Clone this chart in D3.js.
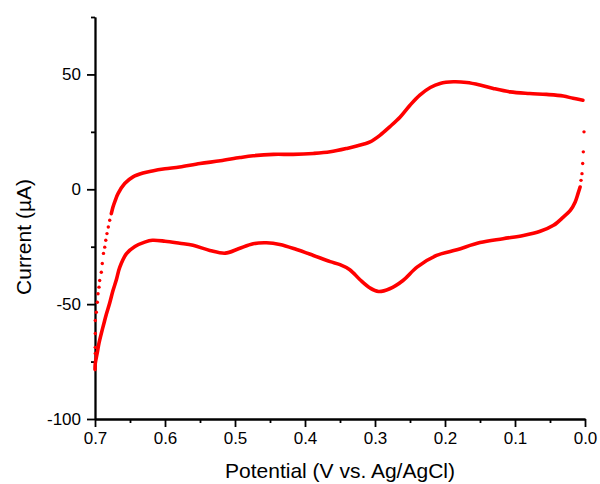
<!DOCTYPE html>
<html>
<head>
<meta charset="utf-8">
<script src="https://cdn.jsdelivr.net/npm/d3@7"></script>
<style>
  html, body { margin: 0; padding: 0; background: #fff; }
  svg { display: block; }
  text { font-family: "Liberation Sans", Arial, sans-serif; fill: #000; }
</style>
</head>
<body>
<div id="chart"></div>
<script>
// Cyclic voltammogram: potential in V vs. Ag/AgCl, current in µA.

// Transient at 0.0 V where the forward sweep begins (sampled sparsely).
const startPotential = [0.0014, 0.0024, 0.0033, 0.0043, 0.0057];
const startCurrent   = [25.0, 16.3, 11.2, 6.8, 3.9];

// Forward sweep 0.0 -> 0.7 V (cathodic branch).
const forwardPotential = [0.007, 0.010, 0.014, 0.021, 0.031, 0.045, 0.064, 0.088, 0.117, 0.150,
  0.183, 0.212, 0.240, 0.260, 0.279, 0.295, 0.307, 0.321, 0.336, 0.350,
  0.364, 0.388, 0.412, 0.436, 0.455, 0.474, 0.495, 0.514, 0.536, 0.560,
  0.579, 0.600, 0.618, 0.629, 0.643, 0.655, 0.6647, 0.6696, 0.6743, 0.679,
  0.6839, 0.6871, 0.691, 0.6943, 0.6967, 0.6996, 0.700];
const forwardCurrent = [1.0, -1.9, -5.5, -9.2, -12.1, -15.7, -18.3, -20.1, -21.5, -23.2,
  -26.3, -28.8, -33.9, -39.7, -43.3, -44.5, -43.0, -39.5, -35.0, -32.8,
  -31.5, -28.8, -26.2, -24.0, -23.3, -23.7, -25.9, -27.8, -26.6, -24.4,
  -23.5, -22.6, -22.2, -23.0, -24.9, -28.0, -34.0, -39.5, -44.1, -49.5,
  -54.5, -58.2, -62.8, -67.0, -71.0, -75.8, -78.5];

// Transient right after the switching potential (sampled sparsely).
const switchPotential = [0.6996, 0.6996, 0.6996, 0.6996, 0.6981, 0.6967, 0.6957, 0.6943, 0.6933, 0.6910,
  0.6896, 0.6879, 0.6861, 0.6846, 0.6829, 0.6810, 0.6790];
const switchCurrent = [-71.5, -68.8, -62.8, -57.1, -53.5, -49.2, -45.5, -42.6, -39.7, -36.1,
  -32.3, -27.9, -25.2, -22.2, -19.3, -16.4, -13.5];

// Reverse sweep 0.7 -> 0.0 V (anodic branch).
const reversePotential = [0.6767, 0.6743, 0.6710, 0.6671, 0.6576, 0.6457, 0.6314, 0.6181, 0.600, 0.579,
  0.550, 0.521, 0.493, 0.474, 0.445, 0.417, 0.388, 0.364, 0.340, 0.317,
  0.307, 0.293, 0.279, 0.264, 0.250, 0.236, 0.221, 0.207, 0.188, 0.169,
  0.150, 0.131, 0.107, 0.079, 0.055, 0.031, 0.017, 0.003];
const reverseCurrent = [-10.6, -7.7, -4.8, -1.9, 2.5, 5.4, 7.1, 8.0, 8.9, 9.7,
  11.2, 12.4, 13.8, 14.6, 15.2, 15.2, 15.6, 16.3, 17.8, 19.6,
  20.6, 23.5, 27.2, 31.5, 36.6, 41.0, 44.3, 46.1, 46.8, 46.5,
  45.4, 43.9, 42.4, 41.7, 41.3, 40.6, 39.6, 38.8];

// Axis ticks
const xMajorTicks = [0.7, 0.6, 0.5, 0.4, 0.3, 0.2, 0.1, 0.0];
const xMinorTicks = [0.65, 0.55, 0.45, 0.35, 0.25, 0.15, 0.05];
const yMajorTicks = [-100, -50, 0, 50];
const yMinorTicks = [-75, -25, 25, 75];

const width = 600, height = 484;
const margin = { left: 95, right: 585, top: 17, bottom: 419 };
const red = "#ff0000";

const svg = d3.select("#chart").append("svg")
  .attr("width", width).attr("height", height);

const x = d3.scaleLinear().domain([0.7, 0.0]).range([margin.left, margin.right]);
const y = d3.scaleLinear().domain([-100, 75]).range([margin.bottom, margin.top]);

const zip = (xs, ys) => xs.map((v, i) => [v, ys[i]]);

// Axes
const xAxis = d3.axisBottom(x).tickValues(xMajorTicks)
  .tickFormat(d3.format(".1f")).tickSize(8).tickSizeOuter(0).tickPadding(5);
const xAxisMinor = d3.axisBottom(x).tickValues(xMinorTicks)
  .tickFormat("").tickSize(4).tickSizeOuter(0);
const yAxis = d3.axisLeft(y).tickValues(yMajorTicks)
  .tickFormat(d => String(d)).tickSize(8).tickSizeOuter(0).tickPadding(6);
const yAxisMinor = d3.axisLeft(y).tickValues(yMinorTicks)
  .tickFormat("").tickSize(4).tickSizeOuter(0);

function styleAxis(g) {
  g.select(".domain").attr("stroke", "#000").attr("stroke-width", 1.8);
  g.selectAll(".tick line").attr("stroke", "#000").attr("stroke-width", 1.8);
  g.selectAll(".tick text").attr("font-size", 17)
    .attr("font-family", "'Liberation Sans', Arial, sans-serif").attr("fill", "#000");
}

svg.append("g").attr("transform", `translate(0,${margin.bottom})`).call(xAxisMinor).call(styleAxis);
svg.append("g").attr("transform", `translate(0,${margin.bottom})`).call(xAxis).call(styleAxis);
svg.append("g").attr("transform", `translate(${margin.left},0)`).call(yAxisMinor).call(styleAxis);
svg.append("g").attr("transform", `translate(${margin.left},0)`).call(yAxis).call(styleAxis);

// Axis titles
svg.append("text")
  .attr("x", (margin.left + margin.right) / 2).attr("y", 478)
  .attr("text-anchor", "middle").attr("font-size", 21)
  .text("Potential (V vs. Ag/AgCl)");

svg.append("text")
  .attr("transform", "translate(31,237) rotate(-90)")
  .attr("text-anchor", "middle").attr("font-size", 21)
  .text("Current (µA)");

// Densely sampled branches drawn as a continuous trace
const line = d3.line()
  .x(d => x(d[0])).y(d => y(d[1]))
  .curve(d3.curveCatmullRom.alpha(0.5));

const plot = svg.append("g");

[zip(forwardPotential, forwardCurrent), zip(reversePotential, reverseCurrent)].forEach(pts => {
  plot.append("path")
    .attr("d", line(pts))
    .attr("fill", "none")
    .attr("stroke", red)
    .attr("stroke-width", 3.6)
    .attr("stroke-linejoin", "round")
    .attr("stroke-linecap", "round");
});

// Sparsely sampled transients drawn as separate points
const sparse = zip(startPotential, startCurrent).concat(zip(switchPotential, switchCurrent));
plot.selectAll("circle.pt")
  .data(sparse)
  .join("circle")
  .attr("class", "pt")
  .attr("cx", d => x(d[0]))
  .attr("cy", d => y(d[1]))
  .attr("r", 1.7)
  .attr("fill", red);
</script>
</body>
</html>
